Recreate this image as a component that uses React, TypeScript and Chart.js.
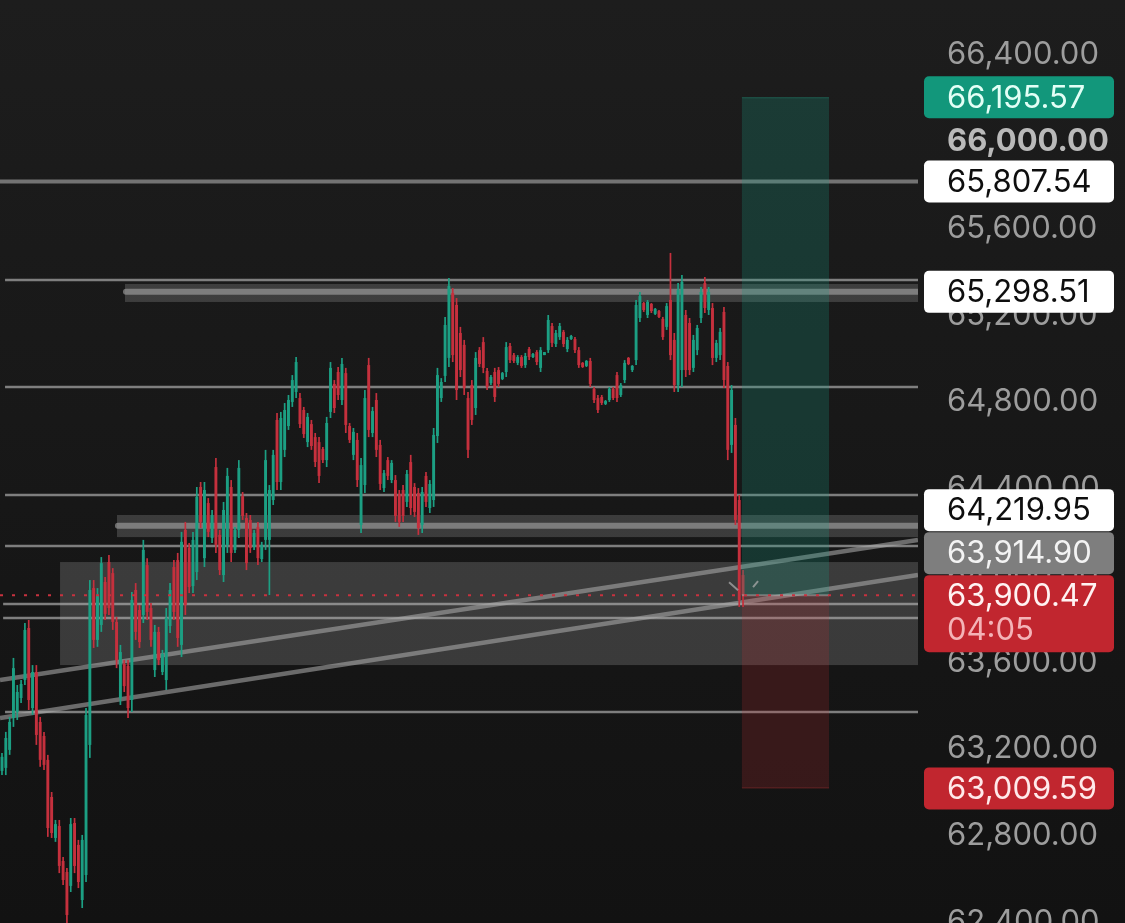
import React, { useEffect, useRef } from "react";
import { Chart, registerables } from "chart.js";

Chart.register(...registerables);

// ---------- candle data (BTC-like, ~3.8 px per bar in the reference) ----------
const opens = [
  63090, 63104, 63187, 63334, 63362, 63426, 63509, 63749, 63380, 63546,
  63316, 63251, 63141, 62970, 62781, 62836, 62675, 62624, 62560, 62850,
  62749, 62495, 62610, 63210, 63933, 63694, 63763, 63961, 64053, 64002,
  63777, 63426, 63583, 63574, 63417, 63924, 63832, 63809, 64039, 63841,
  63555, 63731, 63546, 63509, 63758, 64030, 64062, 63671, 64201, 64118,
  63942, 64007, 64399, 64071, 64325, 64164, 64491, 64178, 63993, 64132,
  64399, 64109, 64201, 64357, 64256, 64247, 64123, 64215, 64067, 64155,
  64155, 64339, 64708, 64422, 64570, 64680, 64791, 64837, 64809, 64754,
  64606, 64689, 64629, 64606, 64574, 64523, 64745, 64874, 64929, 64800,
  64924, 64680, 64547, 64616, 64224, 64408, 64961, 64648, 64800, 64593,
  64394, 64523, 64431, 64431, 64367, 64385, 64330, 64514, 64399, 64371,
  64224, 64450, 64302, 64339, 64634, 64809, 64911, 64994, 65293, 65238,
  65109, 65054, 64809, 64869, 64763, 65030, 65067, 64934, 64878, 64929,
  64938, 64897, 64929, 65049, 65007, 64971, 64998, 64961, 65035, 64998,
  65021, 64948, 65007, 65030, 65141, 65058, 65090, 65114, 65035, 65081,
  65081, 65030, 64971, 64957, 64980, 64851, 64809, 64814, 64782, 64800,
  64851, 64915, 64823, 64892, 64994, 64938, 64984, 65178, 65247, 65192,
  65243, 65197, 65210, 65174, 65137, 65261, 65077, 64869, 64938, 65192,
  65155, 64948, 65030, 65178, 65339, 65215, 65224, 64994, 65007, 65206,
  64957, 64593, 64685, 64339, 63993,
];
const highs = [
  63173, 63270, 63339, 63611, 63486, 63509, 63772, 63786, 63578, 63578,
  63339, 63270, 63164, 62993, 62864, 62864, 62693, 62642, 62873, 62873,
  62772, 62795, 63380, 63970, 63970, 63933, 64076, 63984, 64086, 64025,
  63800, 63671, 63601, 63601, 63915, 63956, 63855, 64155, 64071, 63864,
  63763, 63754, 63648, 63841, 63956, 64062, 64095, 64192, 64238, 64141,
  64192, 64399, 64422, 64422, 64348, 64293, 64533, 64201, 64330, 64487,
  64431, 64215, 64523, 64376, 64279, 64270, 64201, 64238, 64146, 64570,
  64408, 64570, 64740, 64745, 64786, 64823, 64915, 64998, 64832, 64768,
  64740, 64708, 64648, 64629, 64583, 64722, 64975, 64892, 64952, 64994,
  64948, 64694, 64671, 64648, 64533, 64846, 64994, 64768, 64832, 64616,
  64477, 64537, 64523, 64454, 64385, 64408, 64477, 64547, 64417, 64394,
  64399, 64468, 64431, 64671, 64948, 64901, 65183, 65362, 65316, 65270,
  65137, 65077, 64837, 64892, 65021, 65044, 65090, 64948, 64915, 64948,
  64952, 64929, 65067, 65063, 65017, 65007, 65007, 65017, 65044, 65017,
  65030, 65044, 65021, 65192, 65155, 65123, 65155, 65123, 65090, 65100,
  65090, 65044, 64975, 64984, 64994, 64860, 64823, 64823, 64800, 64860,
  64860, 64929, 64878, 64984, 64998, 64961, 65261, 65298, 65252, 65261,
  65247, 65224, 65215, 65183, 65247, 65478, 65109, 65339, 65376, 65215,
  65178, 65100, 65146, 65321, 65367, 65321, 65247, 65077, 65132, 65229,
  64975, 64869, 64717, 64362, 64016,
];
const lows = [
  63071, 63071, 63164, 63293, 63325, 63403, 63486, 63371, 63348, 63210,
  63109, 63094, 62786, 62781, 62763, 62619, 62564, 62360, 62532, 62619,
  62550, 62458, 62578, 63150, 63657, 63662, 63731, 63786, 63809, 63740,
  63564, 63394, 63454, 63334, 63362, 63694, 63657, 63772, 63786, 63662,
  63523, 63578, 63532, 63463, 63726, 63786, 63662, 63615, 63809, 63910,
  63910, 63970, 64210, 64030, 64168, 64141, 64095, 63993, 63961, 64095,
  64053, 64095, 64164, 64247, 64016, 64095, 64109, 64039, 64053, 64109,
  63901, 64316, 64385, 64385, 64537, 64662, 64768, 64809, 64671, 64625,
  64583, 64570, 64491, 64417, 64510, 64491, 64717, 64740, 64800, 64777,
  64648, 64602, 64523, 64399, 64187, 64371, 64629, 64629, 64537, 64385,
  64376, 64431, 64417, 64238, 64215, 64238, 64307, 64270, 64261, 64178,
  64187, 64307, 64279, 64307, 64602, 64791, 64883, 64952, 64975, 64800,
  64906, 64823, 64533, 64685, 64731, 64952, 64924, 64846, 64869, 64791,
  64860, 64892, 64906, 64971, 64971, 64961, 64948, 64948, 64984, 64994,
  64961, 64929, 65007, 65017, 65044, 65044, 65077, 65044, 65021, 65077,
  65017, 64948, 64948, 64952, 64860, 64786, 64740, 64777, 64777, 64791,
  64800, 64791, 64814, 64878, 64961, 64929, 64961, 65160, 65206, 65178,
  65201, 65192, 65178, 65077, 65123, 64984, 64837, 64837, 64860, 64906,
  64915, 64929, 65007, 65155, 65201, 65192, 64961, 64975, 64984, 64855,
  64523, 64556, 64224, 63846, 63846,
];
const closes = [
  63155, 63242, 63316, 63564, 63454, 63491, 63740, 63417, 63546, 63256,
  63141, 63118, 62827, 62804, 62845, 62652, 62587, 62426, 62845, 62652,
  62578, 62772, 63348, 63924, 63694, 63901, 64048, 63814, 63841, 63777,
  63601, 63638, 63481, 63380, 63878, 63731, 63684, 64109, 63823, 63694,
  63731, 63601, 63629, 63795, 63924, 63823, 63703, 64146, 63855, 63938,
  64155, 64353, 64238, 64385, 64192, 64270, 64132, 64016, 64293, 64450,
  64095, 64201, 64487, 64265, 64048, 64118, 64187, 64071, 64132, 64523,
  64385, 64547, 64422, 64717, 64754, 64800, 64892, 64975, 64689, 64643,
  64722, 64588, 64514, 64450, 64523, 64694, 64948, 64763, 64823, 64966,
  64685, 64616, 64653, 64431, 64500, 64809, 64662, 64749, 64570, 64413,
  64463, 64450, 64510, 64265, 64238, 64265, 64459, 64302, 64284, 64210,
  64376, 64330, 64413, 64639, 64915, 64883, 65146, 65326, 65007, 64846,
  64938, 64855, 64570, 64708, 64994, 64966, 64948, 64860, 64906, 64814,
  64874, 64924, 65044, 64984, 64980, 64998, 64957, 65003, 64998, 65012,
  64975, 65030, 65021, 65169, 65063, 65109, 65141, 65058, 65077, 65095,
  65030, 64961, 64952, 64980, 64874, 64800, 64754, 64786, 64795, 64851,
  64809, 64809, 64869, 64971, 64966, 64957, 65238, 65279, 65215, 65252,
  65210, 65220, 65183, 65090, 65233, 65007, 64869, 65307, 65344, 64938,
  64938, 65077, 65132, 65298, 65224, 65298, 64994, 65063, 65114, 64892,
  64570, 64846, 64247, 63878, 63900.47,
];

// ---------- axis ----------
const tickValues = [62400, 62800, 63200, 63600, 64000, 64400, 64800, 65200, 65600, 66000, 66400];
const boldTick = 66000;
const priceMin = 62389;
const priceMax = 66644;
const indexMin = -0.52;
const indexMax = 239.8;

// ---------- drawings (bar index / price) ----------
const levelPrices = [65807.54, 65353, 64860, 64362, 64127, 63860, 63795, 63362];
const levelStarts = [-0.52, 0.8, 0.8, 0.8, 0.8, 0.3, 0.3, 0.8];

const bandLows = [65252, 64168];
const bandHighs = [65335, 64270];
const bandMids = [65298.51, 64219.95];
const bandStarts = [32.2, 30.1];

const zoneLow = 63578;
const zoneHigh = 64053;
const zoneStart = 15.2;

const trendFrom = [[-0.52, 63509], [-0.52, 63334]];
const trendTo = [[239.8, 64155], [239.8, 63993]];

const entryPrice = 63900.47;
const targetPrice = 66195.57;
const stopPrice = 63009.59;
const positionStart = 193.7;
const positionEnd = 216.5;
const countdown = "04:05";

const labelValues = [66195.57, 65807.54, 65298.51, 64219.95, 63914.9, 63900.47, 63009.59];
const labelKinds = ["target", "level", "level", "level", "trend", "last", "stop"];

// ---------- styles ----------
const FONT = 'Inter, "Noto Sans", sans-serif';
const FONT_SIZE = 31;
const UP = "#1c9f83";
const DOWN = "#c5303d";
const labelStyles: Record<string, { bg: string; fg: string }> = {
  target: { bg: "#12977b", fg: "#e2fff6" },
  level: { bg: "#ffffff", fg: "#0e0e0e" },
  trend: { bg: "#7e7e7e", fg: "#f3f3f3" },
  last: { bg: "#c1262f", fg: "#fff2f2" },
  stop: { bg: "#c1262f", fg: "#ffe9ea" },
};

const fmt = (v: number) =>
  Number(v).toLocaleString("en-US", { minimumFractionDigits: 2, maximumFractionDigits: 2 });

const overlayPlugin = {
  id: "overlay",
  beforeDraw(chart: any) {
    const { ctx, width, height } = chart;
    const g = ctx.createLinearGradient(0, 0, 0, height);
    g.addColorStop(0, "#1d1d1d");
    g.addColorStop(1, "#121212");
    ctx.save();
    ctx.fillStyle = g;
    ctx.fillRect(0, 0, width, height);
    ctx.restore();
  },
  beforeDatasetsDraw(chart: any) {
    const { ctx, chartArea: a } = chart;
    const xs = chart.scales.x;
    const ys = chart.scales.y;
    ctx.save();
    ctx.beginPath();
    ctx.rect(a.left, a.top, a.right - a.left, a.bottom - a.top);
    ctx.clip();

    // big grey zone
    let x0 = xs.getPixelForValue(zoneStart);
    let yt = ys.getPixelForValue(zoneHigh);
    let yb = ys.getPixelForValue(zoneLow);
    ctx.fillStyle = "rgba(255,255,255,0.16)";
    ctx.fillRect(x0, yt, a.right - x0, yb - yt);

    // bands
    for (let i = 0; i < bandMids.length; i++) {
      x0 = xs.getPixelForValue(bandStarts[i]);
      yt = ys.getPixelForValue(bandHighs[i]);
      yb = ys.getPixelForValue(bandLows[i]);
      ctx.fillStyle = "rgba(255,255,255,0.16)";
      ctx.fillRect(x0, yt, a.right - x0, yb - yt);
      const ym = ys.getPixelForValue(bandMids[i]);
      ctx.strokeStyle = "rgba(165,165,165,0.62)";
      ctx.lineWidth = 6;
      ctx.lineCap = "round";
      ctx.beginPath();
      ctx.moveTo(x0 + 1, ym);
      ctx.lineTo(a.right + 10, ym);
      ctx.stroke();
    }

    // horizontal levels
    ctx.lineCap = "butt";
    for (let i = 0; i < levelPrices.length; i++) {
      const y = ys.getPixelForValue(levelPrices[i]);
      const xa = xs.getPixelForValue(levelStarts[i]);
      ctx.strokeStyle = i === 0 ? "rgba(150,150,150,0.72)" : "rgba(180,180,180,0.66)";
      ctx.lineWidth = i === 0 ? 4 : 2.5;
      ctx.beginPath();
      ctx.moveTo(xa, y);
      ctx.lineTo(a.right, y);
      ctx.stroke();
    }

    // trend lines
    for (let i = 0; i < trendFrom.length; i++) {
      ctx.strokeStyle = "rgba(170,170,170,0.58)";
      ctx.lineWidth = 4.5;
      ctx.beginPath();
      ctx.moveTo(xs.getPixelForValue(trendFrom[i][0]), ys.getPixelForValue(trendFrom[i][1]));
      ctx.lineTo(xs.getPixelForValue(trendTo[i][0]), ys.getPixelForValue(trendTo[i][1]));
      ctx.stroke();
    }
    ctx.restore();
  },
  afterDatasetsDraw(chart: any) {
    const { ctx, chartArea: a } = chart;
    const xs = chart.scales.x;
    const ys = chart.scales.y;
    ctx.save();
    ctx.beginPath();
    ctx.rect(a.left, a.top, a.right - a.left, a.bottom - a.top);
    ctx.clip();

    const px0 = xs.getPixelForValue(positionStart);
    const px1 = xs.getPixelForValue(positionEnd);
    const yE = ys.getPixelForValue(entryPrice);
    const yT = ys.getPixelForValue(targetPrice);
    const yS = ys.getPixelForValue(stopPrice);
    ctx.fillStyle = "rgba(24,150,126,0.25)";
    ctx.fillRect(px0, yT, px1 - px0, yE - yT);
    ctx.fillStyle = "rgba(200,45,52,0.2)";
    ctx.fillRect(px0, yE, px1 - px0, yS - yE);
    ctx.strokeStyle = "rgba(40,160,135,0.35)";
    ctx.lineWidth = 1;
    ctx.beginPath();
    ctx.moveTo(px0, yT + 0.5);
    ctx.lineTo(px1, yT + 0.5);
    ctx.stroke();
    ctx.strokeStyle = "rgba(200,60,60,0.3)";
    ctx.beginPath();
    ctx.moveTo(px0, yS - 0.5);
    ctx.lineTo(px1, yS - 0.5);
    ctx.stroke();
    ctx.strokeStyle = "rgba(190,190,190,0.45)";
    ctx.lineWidth = 2;
    ctx.beginPath();
    ctx.moveTo(px0, yE);
    ctx.lineTo(px1, yE);
    ctx.stroke();

    // current price dotted line
    ctx.strokeStyle = "#c8323f";
    ctx.lineWidth = 2;
    ctx.setLineDash([3, 9]);
    ctx.beginPath();
    ctx.moveTo(a.left, yE);
    ctx.lineTo(a.right, yE);
    ctx.stroke();
    ctx.setLineDash([]);

    // small cursor marks at the last bar
    const lx = xs.getPixelForValue(opens.length - 1);
    ctx.strokeStyle = "rgba(170,170,170,0.75)";
    ctx.lineWidth = 2;
    ctx.beginPath();
    ctx.moveTo(lx - 14, yE - 13);
    ctx.lineTo(lx - 5, yE - 5);
    ctx.moveTo(lx + 15, yE - 14);
    ctx.lineTo(lx + 10, yE - 8);
    ctx.stroke();
    ctx.restore();
  },
  afterDraw(chart: any) {
    const { ctx } = chart;
    const ys = chart.scales.y;
    const items = labelValues.map((v, i) => ({
      v,
      kind: labelKinds[i],
      y: ys.getPixelForValue(v),
      h: labelKinds[i] === "last" ? 77 : 42,
      top: 0,
    }));
    items.sort((p, q) => q.y - p.y);
    let prevTop = Infinity;
    for (const it of items) {
      let top = it.y - (it.kind === "last" ? 20 : 21);
      if (top + it.h > prevTop - 1) top = prevTop - 1 - it.h;
      it.top = top;
      prevTop = top;
    }
    ctx.save();
    ctx.textBaseline = "middle";
    ctx.textAlign = "left";
    for (const it of items) {
      const st = labelStyles[it.kind];
      ctx.fillStyle = st.bg;
      ctx.beginPath();
      ctx.roundRect(924, it.top, 190, it.h, 5);
      ctx.fill();
      ctx.fillStyle = st.fg;
      ctx.font = `${FONT_SIZE}px ${FONT}`;
      ctx.fillText(fmt(it.v), 947, it.top + 22);
      if (it.kind === "last") {
        ctx.fillStyle = "#f4b3b7";
        ctx.fillText(countdown, 947, it.top + 56);
      }
    }
    ctx.restore();
  },
};

export default function App() {
  const ref = useRef<HTMLCanvasElement | null>(null);
  useEffect(() => {
    document.body.style.margin = "0";
    document.body.style.background = "#121212";
    const canvas = ref.current!;
    const idx = opens.map((_, i) => i);
    const colors = idx.map((i) => (closes[i] >= opens[i] ? UP : DOWN));
    const chart = new Chart(canvas, {
      type: "bar",
      data: {
        datasets: [
          {
            label: "wick",
            data: idx.map((i) => ({ x: i, y: [lows[i], highs[i]] })) as any,
            backgroundColor: colors,
            barThickness: 1.7,
            grouped: false,
            borderWidth: 0,
            inflateAmount: 0,
            order: 2,
          } as any,
          {
            label: "body",
            data: idx.map((i) => ({ x: i, y: [opens[i], closes[i]] })) as any,
            backgroundColor: colors,
            barThickness: 2.9,
            grouped: false,
            borderWidth: 0,
            inflateAmount: 0,
            order: 1,
          } as any,
        ],
      },
      options: {
        animation: false,
        responsive: false,
        devicePixelRatio: 1,
        layout: { padding: 0 },
        plugins: { legend: { display: false }, tooltip: { enabled: false } },
        events: [],
        scales: {
          x: {
            type: "linear",
            min: indexMin,
            max: indexMax,
            offset: false,
            display: false,
          },
          y: {
            type: "linear",
            position: "right",
            min: priceMin,
            max: priceMax,
            grid: { display: false, drawTicks: false },
            border: { display: false },
            afterBuildTicks: (s: any) => {
              s.ticks = tickValues.map((v) => ({ value: v }));
            },
            afterFit: (s: any) => {
              s.width = 207;
              s.paddingTop = 0;
              s.paddingBottom = 0;
            },
            ticks: {
              autoSkip: false,
              padding: 29,
              labelOffset: 2,
              crossAlign: "near",
              color: (c: any) => (c.tick && c.tick.value === boldTick ? "#b9b9b9" : "#9d9d9d"),
              font: (c: any) => ({
                family: FONT,
                size: FONT_SIZE,
                weight: c.tick && c.tick.value === boldTick ? "bold" : "normal",
              }),
              callback: (v: any) => fmt(Number(v)),
            },
          } as any,
        },
      },
      plugins: [overlayPlugin],
    } as any);
    return () => chart.destroy();
  }, []);
  return (
    <div style={{ width: 1125, height: 923, position: "relative" }}>
      <canvas ref={ref} width={1125} height={923} style={{ display: "block" }} />
    </div>
  );
}
